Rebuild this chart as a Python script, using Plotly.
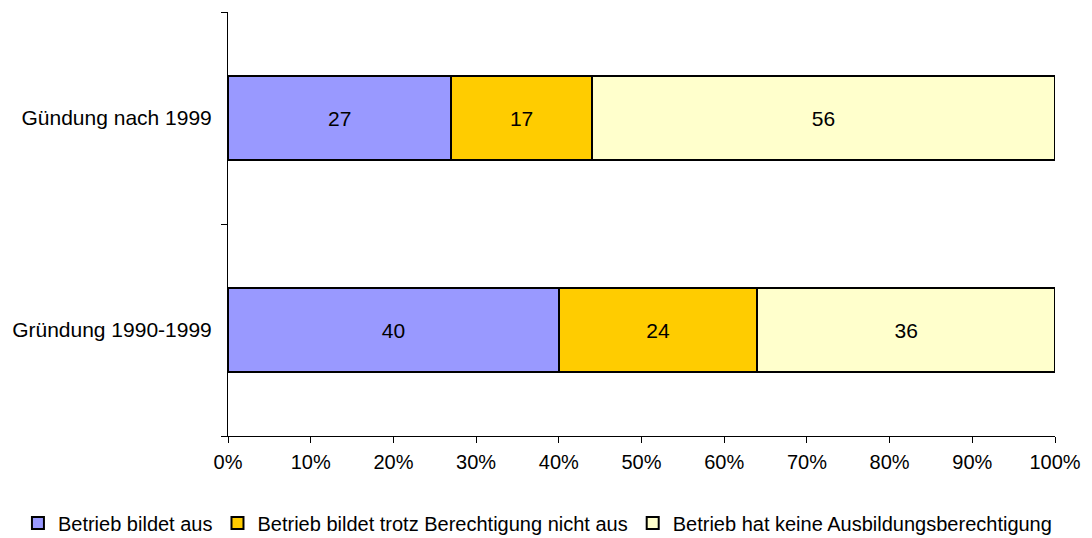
import plotly.graph_objects as go

categories = ["Gründung 1990-1999", "Gündung nach 1999"]
series_names = [
    "Betrieb bildet aus",
    "Betrieb bildet trotz Berechtigung nicht aus",
    "Betrieb hat keine Ausbildungsberechtigung",
]
series_values = [
    [40, 27],
    [24, 17],
    [36, 56],
]
colors = ["#9999FF", "#FFCC00", "#FFFFCC"]
tick_vals = [0, 10, 20, 30, 40, 50, 60, 70, 80, 90, 100]
tick_text = [f"{v}%" for v in tick_vals]

FONT = "Liberation Sans, Arial, sans-serif"

fig = go.Figure()
for name, vals, col in zip(series_names, series_values, colors):
    fig.add_trace(go.Bar(
        y=categories, x=vals, name=name, orientation="h",
        marker=dict(color=col, line=dict(color="black", width=2)),
        text=[str(v) for v in vals], textposition="inside",
        insidetextanchor="middle", textangle=0,
        textfont=dict(size=21, color="black", family=FONT),
        width=0.4,
    ))

fig.update_layout(
    barmode="stack",
    width=1092, height=538,
    margin=dict(l=228, r=37, t=12, b=102, autoexpand=False),
    paper_bgcolor="white", plot_bgcolor="white",
    font=dict(family=FONT, size=20, color="black"),
    showlegend=True,
    legend=dict(
        orientation="h", x=-0.254, xanchor="left",
        y=-0.205, yanchor="middle",
        font=dict(size=20), traceorder="normal",
        itemwidth=30, tracegroupgap=0, bgcolor="rgba(0,0,0,0)",
    ),
    xaxis=dict(
        range=[0, 100], tickvals=tick_vals, ticktext=tick_text,
        showgrid=False, zeroline=False, showline=True, linecolor="black",
        linewidth=1, ticks="outside", ticklen=6, tickcolor="black",
        ticklabelstandoff=2, fixedrange=True, tickfont=dict(size=20),
    ),
    yaxis=dict(
        type="category", categoryorder="array", categoryarray=categories,
        tickson="boundaries", ticks="outside", ticklen=6, tickcolor="black",
        showline=True, linecolor="black", linewidth=1, showgrid=False,
        ticklabelstandoff=11, tickfont=dict(size=21), fixedrange=True,
    ),
)

fig.write_html("out.html", config={"displayModeBar": False},
               post_script="document.body.style.margin='0px';")
